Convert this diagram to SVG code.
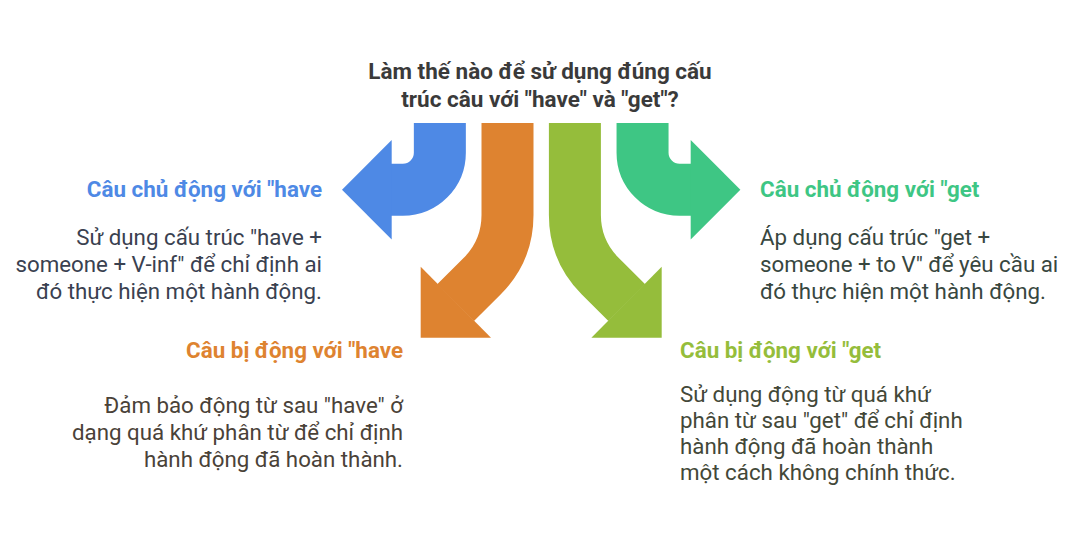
<svg xmlns="http://www.w3.org/2000/svg" width="1083" height="543" viewBox="0 0 1083 543">
<style>
.t{font-family:Roboto,"Liberation Sans",sans-serif;}
.title{font-size:22.5px;font-weight:700;fill:#3a3a3a;text-anchor:middle;}
.h{font-size:22.4px;font-weight:700;}
.b{font-size:22.3px;}
.body{fill:none;stroke-width:52;stroke-linejoin:round;}
</style>
<rect width="1083" height="543" fill="#ffffff"/>
<g id="connectors">
<g id="arrow-blue">
<path class="body" stroke="#4E89E5" d="M439.85,123 L439.85,152.7 A37,37 0 0 1 402.85,189.7 L390.7,189.7"/>
<polygon fill="#4E89E5" points="391.7,140 342,189.7 391.7,239.4"/>
</g>
<g id="arrow-orange">
<path class="body" stroke="#DE8330" d="M507.5,123 L507.5,215 Q507.5,250.8 482.2,276.1 L455.6,302.7"/>
<polygon fill="#DE8330" points="420.7,266.7 420.7,337.7 491,337.7"/>
</g>
<g id="arrow-green">
<path class="body" stroke="#95BD3B" d="M574.9,123 L574.9,215 Q574.9,250.8 600.2,276.1 L626.8,302.7"/>
<polygon fill="#95BD3B" points="661.7,266.7 661.7,337.7 591.4,337.7"/>
</g>
<g id="arrow-teal">
<path class="body" stroke="#3EC684" d="M642.55,123 L642.55,152.7 A37,37 0 0 0 679.55,189.7 L691.7,189.7"/>
<polygon fill="#3EC684" points="690.7,140 740.4,189.7 690.7,239.4"/>
</g>
</g>
<g id="title">
<text class="t title" x="540" y="79">Làm thế nào để sử dụng đúng cấu</text>
<text class="t title" x="540" y="107">trúc câu với "have" và "get"?</text>
</g>
<g id="node-active-have" text-anchor="end">
<text class="t h" x="322" y="197" fill="#4E89E5">Câu chủ động với "have</text>
<text class="t b" fill="#3a4150"><tspan x="322" y="245">Sử dụng cấu trúc "have +</tspan><tspan x="322" y="272">someone + V-inf" để chỉ định ai</tspan><tspan x="322" y="299">đó thực hiện một hành động.</tspan></text>
</g>
<g id="node-active-get">
<text class="t h" x="760" y="197" fill="#3EC684">Câu chủ động với "get</text>
<text class="t b" fill="#38473f"><tspan x="760" y="245">Áp dụng cấu trúc "get +</tspan><tspan x="760" y="272">someone + to V" để yêu cầu ai</tspan><tspan x="760" y="299">đó thực hiện một hành động.</tspan></text>
</g>
<g id="node-passive-have" text-anchor="end">
<text class="t h" x="403" y="358" fill="#DE8330">Câu bị động với "have</text>
<text class="t b" fill="#4a4238"><tspan x="403" y="413">Đảm bảo động từ sau "have" ở</tspan><tspan x="403" y="440">dạng quá khứ phân từ để chỉ định</tspan><tspan x="403" y="467">hành động đã hoàn thành.</tspan></text>
</g>
<g id="node-passive-get">
<text class="t h" x="680" y="358" fill="#95BD3B">Câu bị động với "get</text>
<text class="t b" fill="#434838"><tspan x="680" y="402">Sử dụng động từ quá khứ</tspan><tspan x="680" y="428">phân từ sau "get" để chỉ định</tspan><tspan x="680" y="454">hành động đã hoàn thành</tspan><tspan x="680" y="480">một cách không chính thức.</tspan></text>
</g>
</svg>
